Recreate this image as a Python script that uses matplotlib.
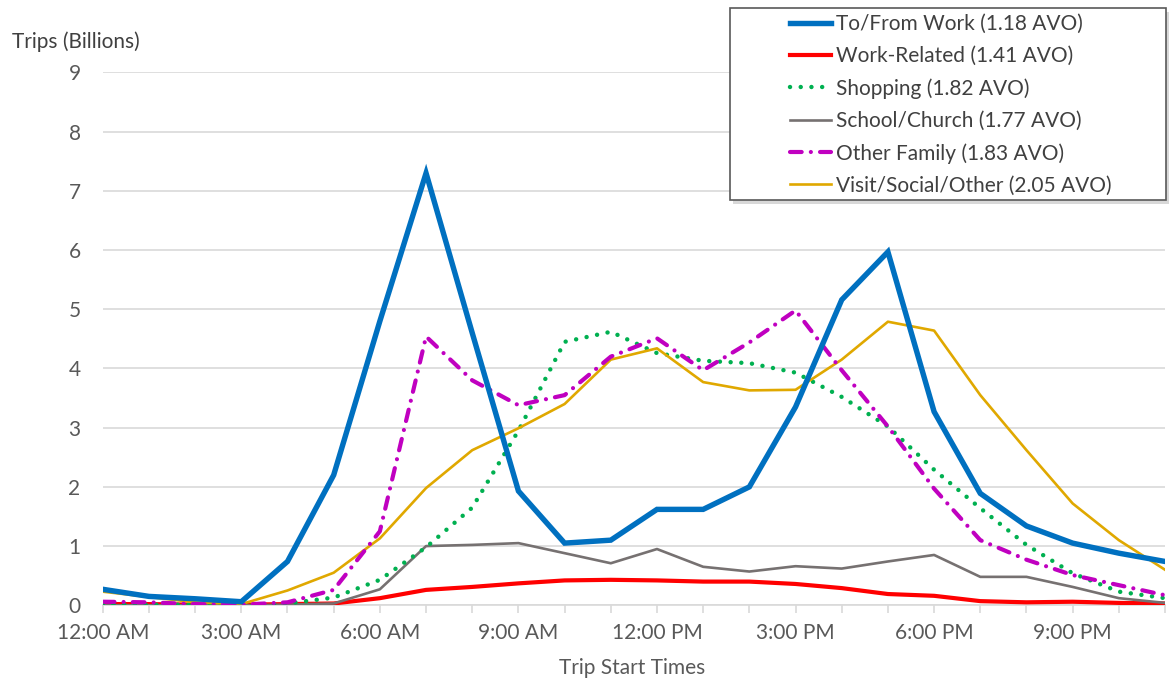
import matplotlib
matplotlib.use("Agg")
import matplotlib.pyplot as plt
from matplotlib.patches import Rectangle

hours = list(range(24))
tick_hours = [0, 3, 6, 9, 12, 15, 18, 21]
tick_labels = ["12:00 AM", "3:00 AM", "6:00 AM", "9:00 AM",
               "12:00 PM", "3:00 PM", "6:00 PM", "9:00 PM"]

to_from_work = [0.27, 0.15, 0.11, 0.06, 0.74, 2.2, 4.8, 7.3, 4.6, 1.93, 1.05, 1.1,
                1.62, 1.62, 2.0, 3.35, 5.16, 5.97, 3.27, 1.89, 1.34, 1.05, 0.88, 0.74]
work_related = [0.02, 0.02, 0.01, 0.01, 0.02, 0.03, 0.12, 0.26, 0.31, 0.37, 0.42, 0.43,
                0.42, 0.40, 0.40, 0.36, 0.29, 0.19, 0.16, 0.07, 0.05, 0.06, 0.04, 0.03]
shopping = [0.02, 0.01, 0.01, 0.0, 0.03, 0.13, 0.43, 0.98, 1.65, 2.95, 4.45, 4.62,
            4.26, 4.13, 4.09, 3.93, 3.52, 3.02, 2.29, 1.64, 1.02, 0.54, 0.23, 0.12]
school_church = [0.0, 0.0, 0.0, 0.0, 0.01, 0.03, 0.27, 1.0, 1.02, 1.05, 0.88, 0.71,
                 0.95, 0.65, 0.57, 0.66, 0.62, 0.74, 0.85, 0.48, 0.48, 0.31, 0.12, 0.04]
other_family = [0.06, 0.05, 0.02, 0.01, 0.05, 0.26, 1.25, 4.54, 3.8, 3.38, 3.55, 4.2,
                4.51, 3.97, 4.44, 4.98, 3.97, 3.02, 1.97, 1.1, 0.77, 0.51, 0.34, 0.17]
visit_social = [0.23, 0.14, 0.05, 0.02, 0.25, 0.55, 1.13, 1.98, 2.62, 2.99, 3.4, 4.15,
                4.34, 3.77, 3.63, 3.64, 4.15, 4.79, 4.64, 3.55, 2.62, 1.72, 1.1, 0.6]

plt.rcParams['font.family'] = ['Lato', 'DejaVu Sans']

W, H = 1169, 682
fig = plt.figure(figsize=(W / 100, H / 100), dpi=100)
ax = fig.add_axes([0.0879, 0.1125, 0.9087, 0.7812])

ax.plot(hours, to_from_work, color='#0070C0', lw=3.9, solid_joinstyle='miter',
        label='To/From Work (1.18 AVO)', zorder=6)
ax.plot(hours, work_related, color='#FF0000', lw=3.0,
        label='Work-Related (1.41 AVO)', zorder=3)
ax.plot(hours, shopping, color='#00B050', lw=3.2, linestyle=(0, (0.01, 2.4)),
        dash_capstyle='round', label='Shopping (1.82 AVO)', zorder=4)
ax.plot(hours, school_church, color='#767171', lw=1.9,
        label='School/Church (1.77 AVO)', zorder=3)
ax.plot(hours, other_family, color='#C000C0', lw=3.0,
        linestyle=(0, (2.8, 2.2, 0.01, 2.2)), dash_capstyle='round',
        label='Other Family (1.83 AVO)', zorder=5)
ax.plot(hours, visit_social, color='#E0A800', lw=1.9,
        label='Visit/Social/Other (2.05 AVO)', zorder=4)

ax.set_xlim(0, 23)
ax.set_ylim(0, 9)
ax.set_yticks(range(10))
ax.set_xticks(range(24), minor=True)
ax.set_xticks(tick_hours)
ax.set_xticklabels(tick_labels)

ax.grid(axis='y', color='#d9d9d9', lw=1.2)
ax.set_axisbelow(True)
for s in ['left', 'right', 'top']:
    ax.spines[s].set_visible(False)
ax.spines['bottom'].set_color('#d9d9d9')
ax.spines['bottom'].set_linewidth(1.2)
ax.tick_params(axis='x', which='both', length=6, color='#d9d9d9', width=1.2,
               labelsize=15, labelcolor='#595959', pad=7)
ax.tick_params(axis='y', length=0, labelsize=15, labelcolor='#595959', pad=16)

fig.text(12 / W, 1 - 42 / H, 'Trips (Billions)', fontsize=15, color='#404040', va='center')
fig.text(632 / W, 1 - 668 / H, 'Trip Start Times', fontsize=15, color='#595959',
         ha='center', va='center')

# legend frame with a soft shadow, drawn separately
x0, y0, x1, y1 = 730, 8, 1166, 200
fig.patches.append(Rectangle(((x0 + 3) / W, 1 - (y1 + 4) / H), (x1 - x0) / W, (y1 - y0) / H,
                             transform=fig.transFigure, facecolor='#bfbfbf',
                             edgecolor='none', zorder=9, alpha=0.6))
fig.patches.append(Rectangle((x0 / W, 1 - y1 / H), (x1 - x0) / W, (y1 - y0) / H,
                             transform=fig.transFigure, facecolor='white',
                             edgecolor='#595959', lw=1.2, zorder=9.5))

handles, labels = ax.get_legend_handles_labels()
leg = fig.legend(handles, labels, loc='upper left', bbox_to_anchor=(790 / W, 1 - 14 / H),
                 fontsize=15, frameon=False,
                 handlelength=1.95, handletextpad=0.25, labelspacing=0.58,
                 borderpad=0, borderaxespad=0)
for t in leg.get_texts():
    t.set_color('#404040')
leg.set_zorder(10)

fig.savefig('out.png', dpi=100)
